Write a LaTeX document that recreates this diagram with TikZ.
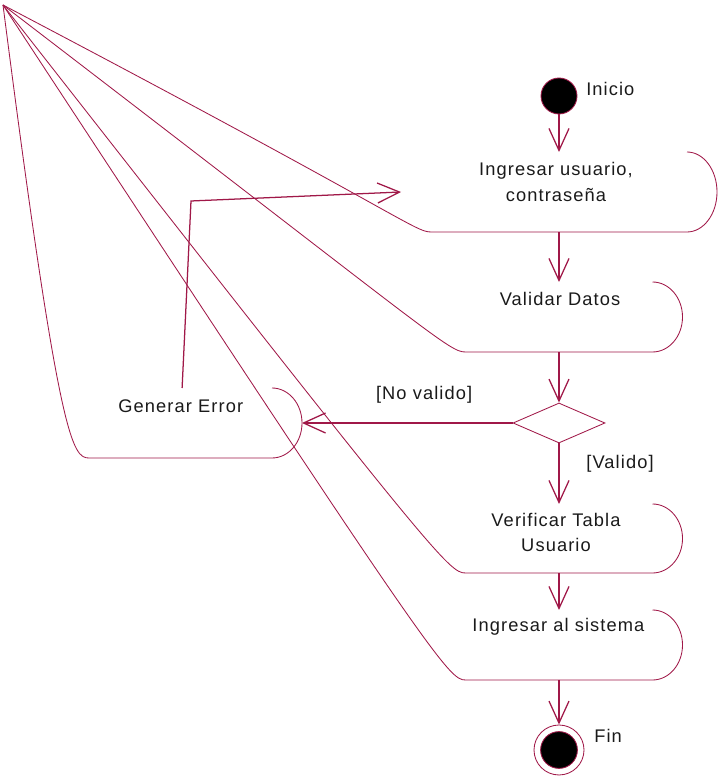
\documentclass[tikz,border=0pt]{standalone}
\usepackage{fontspec}
\setmainfont{Liberation Sans}[LetterSpace=6]
\usepackage{tikz}
\usetikzlibrary{arrows.meta,positioning,calc,shapes.geometric}
\definecolor{Granate}{HTML}{A01848}
\definecolor{Texto}{HTML}{1A1A1A}

% Contorno roto de una actividad: sale del vertice superior izquierdo.
\newcommand{\contorno}[1]{%
  \draw[borde] (apice)
    .. controls ($(#1.south west)!0.448!(#1.west)$) and ([xshift=3.36mm]#1.south west)
    .. ([xshift=7.5mm]#1.south west) -- ([xshift=-7.5mm]#1.south east)
    .. controls ([xshift=-3.36mm]#1.south east) and ($(#1.south east)!0.448!(#1.east)$)
    .. (#1.east)
    .. controls ($(#1.east)!0.552!(#1.north east)$) and ([xshift=-3.36mm]#1.north east)
    .. ([xshift=-7.5mm]#1.north east);}

\begin{document}
\begin{tikzpicture}[
  font=\fontsize{13}{18}\selectfont,
  >=Latex,
  borde/.style={draw=Granate,line width=0.6pt},
  flecha/.style={-{Straight Barb[length=5.5mm,width=5mm]},draw=Granate,line width=0.9pt},
  actividad/.style={inner sep=0pt,outer sep=0pt},
  texto/.style={text=Texto,align=center,inner sep=0pt},
  etiqueta/.style={text=Texto,inner sep=0pt},
  inicial/.style={circle,fill=black,draw=Granate,line width=0.6pt,minimum size=9mm,inner sep=0pt},
  final/.style={circle,draw=Granate,line width=0.6pt,minimum size=12.5mm,inner sep=0pt,
    path picture={\filldraw[fill=black,draw=Granate] (path picture bounding box.center) circle (4.6mm);}},
  decision/.style={diamond,draw=Granate,line width=0.6pt,minimum width=2.3cm,
    minimum height=1cm,inner sep=0pt}
]
  \useasboundingbox (0,0) rectangle (17.95,19.4);
  \coordinate (apice) at (0.075,19.275);

  % Inicio.
  \node[inicial] (inicio) at (13.975,17.0) {};
  \node[etiqueta,anchor=west] (tinicio) at (14.65,17.17) {Inicio};

  % Actividades.
  \node[actividad,minimum width=7.9cm,minimum height=2cm] (ingresar) at (13.975,14.6) {};
  \node[texto] (tingresar) at (13.9,14.85) {Ingresar usuario,\\contraseña};
  \node[actividad,minimum width=6.175cm,minimum height=1.75cm] (validar) at (13.975,11.475) {};
  \node[texto] (tvalidar) at (14.0,11.92) {Validar Datos};
  \node[decision] (decision) at (13.975,8.825) {};
  \node[actividad,minimum width=6.075cm,minimum height=1.75cm] (error) at (4.5125,8.825) {};
  \node[texto] (terror) at (4.52,9.25) {Generar Error};
  \node[actividad,minimum width=6.175cm,minimum height=1.725cm] (verificar) at (13.975,5.9375) {};
  \node[texto] (tverificar) at (13.9,6.09) {Verificar Tabla\\Usuario};
  \node[actividad,minimum width=6.175cm,minimum height=1.75cm] (sistema) at (13.975,3.275) {};
  \node[texto] (tsistema) at (13.96,3.725) {Ingresar al sistema};

  % Fin.
  \node[final] (fin) at (13.975,0.65) {};
  \node[etiqueta,anchor=west] (tfin) at (14.85,1.0) {Fin};

  \foreach \a in {ingresar,validar,error,verificar,sistema}
    {\contorno{\a}}

  % Transiciones.
  \draw[flecha] (inicio) -- (ingresar);
  \draw[flecha] (ingresar) -- (validar);
  \draw[flecha] (validar) -- (decision);
  \draw[flecha] (decision) -- node[etiqueta,pos=0.42,yshift=7mm] {[No valido]} (error);
  \draw[flecha] (decision) -- node[etiqueta,pos=0.33,xshift=15.25mm] {[Valido]} (verificar);
  \draw[flecha] (verificar) -- (sistema);
  \draw[flecha] (sistema) -- (fin);
  \coordinate (codo) at (4.775,14.375);
  \draw[flecha] ([xshift=0.4mm]error.north) -- (codo) -- (ingresar.west);
\end{tikzpicture}
\end{document}
